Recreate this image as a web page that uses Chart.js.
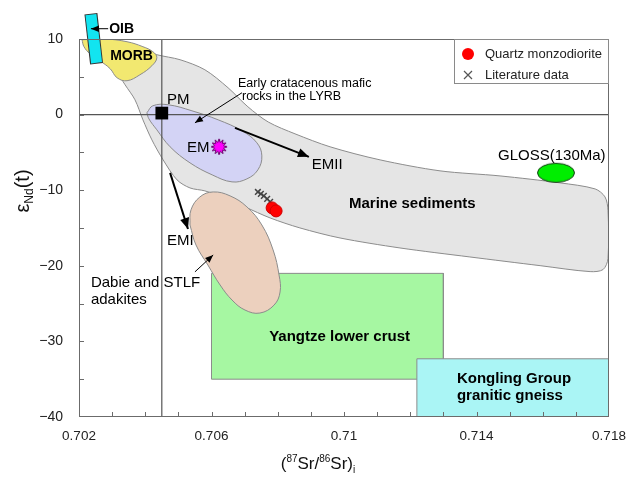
<!DOCTYPE html>
<html>
<head>
<meta charset="utf-8">
<script src="https://cdn.jsdelivr.net/npm/chart.js@4.4.0/dist/chart.umd.min.js"></script>
<style>
html, body { margin: 0; padding: 0; background: #fff; }
canvas { display: block; }
</style>
</head>
<body>
<canvas id="c" width="630" height="477"></canvas>
<script>
var FONT = "'Liberation Sans', Arial, sans-serif";

// axis ticks
var xTicks = [0.702, 0.706, 0.71, 0.714, 0.718];
var yTicks = [-40, -30, -20, -10, 0, 10];

// fields, [(87Sr/86Sr)i, eNd(t)], closed outlines
var marineSediments = [[0.70300,7.26],[0.70369,8.85],[0.70435,7.92],[0.70505,7.26],[0.70580,5.93],[0.70650,3.55],
  [0.70710,1.03],[0.70771,-0.97],[0.70852,-2.54],[0.70958,-4.26],[0.71109,-5.99],[0.71290,-7.44],[0.71471,-8.11],
  [0.71652,-9.03],[0.71758,-9.83],[0.71788,-10.89],[0.71797,-12.69],[0.71797,-19.05],[0.71782,-20.5],[0.71743,-20.77],
  [0.71592,-19.98],[0.71380,-18.83],[0.71169,-17.64],[0.70988,-16.32],[0.70867,-14.99],[0.70777,-13.67],[0.70701,-12.21],
  [0.70641,-11.03],[0.70580,-10.09],[0.70535,-9.7],[0.70496,-8.64],[0.70454,-5.99],[0.70420,-3.34],[0.70393,-0.69],
  [0.70369,1.96],[0.70339,3.95],[0.70315,5.67],[0.70300,7.26]];
var earlyMaficLYRB = [[0.70405,0.24],[0.70423,1.17],[0.70469,1.30],[0.70541,0.50],[0.70620,-0.69],[0.70692,-2.15],
  [0.70737,-3.73],[0.70752,-5.46],[0.70740,-7.31],[0.70707,-8.50],[0.70662,-8.90],[0.70602,-7.97],[0.70535,-6.38],
  [0.70475,-4.26],[0.70435,-2.01],[0.70411,-0.56],[0.70405,0.24]];
var morb = [[0.70209,9.91],[0.70278,10],[0.70345,9.64],[0.70393,8.98],[0.70423,8.32],[0.70435,7.52],[0.70420,6.46],
  [0.70384,5.27],[0.70345,4.48],[0.70315,4.87],[0.70294,6.07],[0.70263,7.13],[0.70233,8.05],[0.70215,8.98],[0.70209,9.91]];
var dabieAdakites = [[0.70535,-14.6],[0.70538,-12.61],[0.70565,-10.89],[0.70605,-10.23],[0.70656,-10.75],[0.70707,-12.21],
  [0.70752,-14.6],[0.70786,-17.91],[0.70804,-21.23],[0.70807,-23.46],[0.70789,-25.19],[0.70746,-26.25],[0.70701,-25.85],
  [0.70662,-24.53],[0.70626,-22.54],[0.70589,-19.89],[0.70553,-17.24],[0.70535,-14.6]];
var yangtzeLowerCrust = [[0.706,-21],[0.713,-21],[0.713,-35],[0.706,-35],[0.706,-21]];
var konglingGneiss = [[0.7122,-32.3],[0.718,-32.3],[0.718,-40],[0.7122,-40],[0.7122,-32.3]];
var oibBand = [[0.70236,13.22],[0.70253,6.86]];
var oibEdge = [[0.70236,13.35],[0.70253,6.73]];

// end members and samples
var pm = [[0.7045,0.2]];
var em = [[0.70623,-4.26]];
var gloss = [[0.7164,-7.7]];
var quartzMonzodiorite = [[0.70783,-12.34],[0.70795,-12.74]];
var literatureData = [[0.7074,-10.23],[0.70749,-10.49],[0.70758,-10.75],[0.70768,-11.15],[0.70777,-11.55]];

// reference lines through PM
var pmVertical = [[0.7045,10],[0.7045,-40]];
var pmHorizontal = [[0.702,0],[0.718,0]];

// arrows, tail -> tip
var arrowOib = [[0.70288,11.36],[0.70236,11.36]];
var arrowEarly = [[0.70692,2.89],[0.7055,-1.09]];
var arrowEmii = [[0.70671,-1.75],[0.70894,-5.59]];
var arrowEmi = [[0.70475,-7.71],[0.70529,-15.13]];
var arrowDabie = [[0.7055,-20.8],[0.70605,-18.57]];

var notes = [
  ['OIB', 0.70291, 11.36, 'bold 14px'],
  ['MORB', 0.70294, 7.79, 'bold 14px'],
  ['PM', 0.70466, 1.96, '15px'],
  ['Early cratacenous mafic', 0.7068, 4.08, '12.5px'],
  ['rocks in the LYRB', 0.70692, 2.36, '12.5px'],
  ['EM', 0.70526, -4.4, '15px'],
  ['EMII', 0.70903, -6.6, '15px'],
  ['GLOSS(130Ma)', 0.71465, -5.45, '15px'],
  ['Marine sediments', 0.71015, -11.84, 'bold 15px'],
  ['EMI', 0.70466, -16.7, '15px'],
  ['Dabie and STLF', 0.70236, -22.3, '15px'],
  ['adakites', 0.70236, -24.5, '15px'],
  ['Yangtze lower crust', 0.70774, -29.4, 'bold 15px'],
  ['Kongling Group', 0.71341, -35.0, 'bold 15px'],
  ['granitic gneiss', 0.71341, -37.2, 'bold 15px']
];

var xy = function(a) {
  return a.map(function(p) { return {x: p[0], y: p[1]}; });
};

var field = function(a, color, order, tension) {
  return {data: xy(a), showLine: true, fill: 'shape', backgroundColor: color, borderColor: '#8c8c8c',
    borderWidth: 1, pointRadius: 0, tension: tension, order: order};
};

var arrow = function(a, width, order) {
  return {data: xy(a), showLine: true, fill: false, borderColor: '#000', borderWidth: width,
    pointRadius: 0, arrow: true, clip: false, order: order};
};

var starImage = function() {
  var c = document.createElement('canvas');
  c.width = 18; c.height = 18;
  var g = c.getContext('2d');
  g.beginPath();
  for (var i = 0; i < 24; i++) {
    var r = i % 2 ? 4.6 : 8;
    var a = i * Math.PI / 12;
    g.lineTo(9 + r * Math.sin(a), 9 - r * Math.cos(a));
  }
  g.closePath();
  g.fillStyle = '#ff00ff';
  g.fill();
  g.strokeStyle = '#6a006a';
  g.lineWidth = 1;
  g.stroke();
  return c;
};

var ellipseImage = function() {
  var c = document.createElement('canvas');
  c.width = 40; c.height = 22;
  var g = c.getContext('2d');
  g.beginPath();
  g.ellipse(20, 11, 18.5, 9.5, 0, 0, Math.PI * 2);
  g.fillStyle = '#00ee00';
  g.fill();
  g.strokeStyle = '#1a3a1a';
  g.lineWidth = 1;
  g.stroke();
  return c;
};

var noPad = function(s) {
  s.paddingLeft = 0; s.paddingRight = 0; s.paddingTop = 0; s.paddingBottom = 0;
};

var decor = {
  id: 'decor',
  afterDatasetsDraw: function(chart) {
    var ctx = chart.ctx, xs = chart.scales.x, ys = chart.scales.y;
    chart.data.datasets.forEach(function(ds) {
      if (!ds.arrow) return;
      var n = ds.data.length, a = ds.data[n - 2], b = ds.data[n - 1];
      var x1 = xs.getPixelForValue(a.x), y1 = ys.getPixelForValue(a.y);
      var x2 = xs.getPixelForValue(b.x), y2 = ys.getPixelForValue(b.y);
      var len = 5 + 3 * ds.borderWidth, hw = 2 + 1.3 * ds.borderWidth;
      ctx.save();
      ctx.translate(x2, y2);
      ctx.rotate(Math.atan2(y2 - y1, x2 - x1));
      ctx.beginPath();
      ctx.moveTo(0, 0);
      ctx.lineTo(-len, hw);
      ctx.lineTo(-len, -hw);
      ctx.closePath();
      ctx.fillStyle = '#000';
      ctx.fill();
      ctx.restore();
    });
  },
  afterDraw: function(chart) {
    var ctx = chart.ctx, a = chart.chartArea, xs = chart.scales.x, ys = chart.scales.y;
    ctx.save();
    // frame
    ctx.strokeStyle = '#6b6b6b';
    ctx.lineWidth = 1;
    ctx.strokeRect(a.left + 0.5, a.top + 0.5, a.right - a.left - 1, a.bottom - a.top - 1);
    // inward minor ticks
    ctx.beginPath();
    for (var i = 1; i < 16; i++) {
      var px = Math.round(xs.getPixelForValue(0.702 + i * 0.001)) + 0.5;
      ctx.moveTo(px, a.bottom);
      ctx.lineTo(px, a.bottom - 5);
    }
    for (var j = 1; j < 10; j++) {
      var py = Math.round(ys.getPixelForValue(-40 + j * 5)) + 0.5;
      ctx.moveTo(a.left, py);
      ctx.lineTo(a.left + 5, py);
    }
    ctx.stroke();

    // labels on the diagram
    ctx.fillStyle = '#000';
    ctx.textBaseline = 'middle';
    ctx.textAlign = 'left';
    notes.forEach(function(n) {
      ctx.font = n[3] + ' ' + FONT;
      ctx.fillText(n[0], xs.getPixelForValue(n[1]), ys.getPixelForValue(n[2]));
    });

    // legend
    var lx = a.right - 155, ly = a.top;
    ctx.fillStyle = '#fff';
    ctx.fillRect(lx, ly, 155, 44);
    ctx.strokeStyle = '#8a8a8a';
    ctx.strokeRect(lx + 0.5, ly + 0.5, 154, 44);
    ctx.beginPath();
    ctx.arc(lx + 14, ly + 15, 6, 0, Math.PI * 2);
    ctx.fillStyle = '#ff0000';
    ctx.fill();
    ctx.strokeStyle = '#555';
    ctx.lineWidth = 1.2;
    ctx.beginPath();
    ctx.moveTo(lx + 10, ly + 32); ctx.lineTo(lx + 18, ly + 40);
    ctx.moveTo(lx + 18, ly + 32); ctx.lineTo(lx + 10, ly + 40);
    ctx.stroke();
    ctx.fillStyle = '#222';
    ctx.font = '13px ' + FONT;
    ctx.fillText('Quartz monzodiorite', lx + 31, ly + 15);
    ctx.fillText('Literature data', lx + 31, ly + 36);

    // y title
    ctx.save();
    ctx.translate(22, 191);
    ctx.rotate(-Math.PI / 2);
    var yparts = [['\u03B5', '20px', 0], ['Nd', '12px', 4], ['(t)', '20px', 0]];
    var tw = 0;
    yparts.forEach(function(p) { ctx.font = p[1] + ' ' + FONT; tw += ctx.measureText(p[0]).width; });
    var u = -tw / 2;
    ctx.textBaseline = 'alphabetic';
    ctx.fillStyle = '#111';
    yparts.forEach(function(p) {
      ctx.font = p[1] + ' ' + FONT;
      ctx.fillText(p[0], u, 7 + p[2]);
      u += ctx.measureText(p[0]).width;
    });
    ctx.restore();

    // x title
    var xparts = [['(', '17px', 0], ['87', '10px', -7], ['Sr/', '17px', 0], ['86', '10px', -7], ['Sr)', '17px', 0], ['i', '10px', 4]];
    tw = 0;
    xparts.forEach(function(p) { ctx.font = p[1] + ' ' + FONT; tw += ctx.measureText(p[0]).width; });
    var xx = 318 - tw / 2;
    ctx.textBaseline = 'alphabetic';
    ctx.fillStyle = '#111';
    xparts.forEach(function(p) {
      ctx.font = p[1] + ' ' + FONT;
      ctx.fillText(p[0], xx, 469 + p[2]);
      xx += ctx.measureText(p[0]).width;
    });
    ctx.restore();
  }
};

Chart.defaults.font.family = FONT;

var chart = new Chart(document.getElementById('c').getContext('2d'), {
  type: 'scatter',
  data: {
    datasets: [
      field(marineSediments, '#e5e5e5', 30, 0.3),
      field(yangtzeLowerCrust, '#a6f7a2', 29, 0),
      field(konglingGneiss, '#aaf5f5', 28, 0),
      field(earlyMaficLYRB, '#d3d3f5', 27, 0.4),
      field(dabieAdakites, '#ecd0be', 26, 0.4),
      field(morb, '#f2e870', 25, 0.4),
      {data: xy(oibEdge), showLine: true, borderColor: '#333', borderWidth: 13, borderCapStyle: 'butt', pointRadius: 0, clip: false, order: 24},
      {data: xy(oibBand), showLine: true, borderColor: '#12e4f0', borderWidth: 11, borderCapStyle: 'butt', pointRadius: 0, clip: false, order: 23},
      {data: xy(pmVertical), showLine: true, borderColor: '#555', borderWidth: 1.2, pointRadius: 0, order: 20},
      {data: xy(pmHorizontal), showLine: true, borderColor: '#555', borderWidth: 1.2, pointRadius: 0, order: 20},
      arrow(arrowOib, 1, 12),
      arrow(arrowEarly, 1, 12),
      arrow(arrowEmii, 2, 12),
      arrow(arrowEmi, 2, 12),
      arrow(arrowDabie, 1, 12),
      {data: xy(gloss), pointStyle: ellipseImage(), pointRadius: 10, order: 8},
      {data: xy(literatureData), pointStyle: 'crossRot', pointRadius: 4, borderColor: '#444', borderWidth: 1.5, order: 5},
      {data: xy(quartzMonzodiorite), pointStyle: 'circle', pointRadius: 6, backgroundColor: '#ff0000', borderColor: '#d00000', borderWidth: 1, order: 4},
      {data: xy(em), pointStyle: starImage(), pointRadius: 9, order: 3},
      {data: xy(pm), pointStyle: 'rect', pointRadius: 9, backgroundColor: '#000', borderColor: '#000', borderWidth: 0, order: 2}
    ]
  },
  options: {
    responsive: false,
    animation: false,
    events: [],
    layout: { padding: { top: 39, right: 21, left: 0, bottom: 0 } },
    plugins: { legend: { display: false }, tooltip: { enabled: false } },
    scales: {
      x: {
        type: 'linear', min: 0.702, max: 0.718,
        afterFit: function(s) { s.height = 60; noPad(s); },
        afterBuildTicks: function(s) { s.ticks = xTicks.map(function(v) { return {value: v}; }); },
        grid: { display: false, drawTicks: false },
        border: { display: false },
        ticks: { padding: 11, autoSkip: false, maxRotation: 0, color: '#222', font: { size: 13.5 },
          callback: function(v) { return String(v); } }
      },
      y: {
        type: 'linear', min: -40, max: 10,
        afterFit: function(s) { s.width = 79; noPad(s); },
        afterBuildTicks: function(s) { s.ticks = yTicks.map(function(v) { return {value: v}; }); },
        grid: { display: false, drawTicks: false },
        border: { display: false },
        ticks: { padding: 16, color: '#222', font: { size: 14 },
          callback: function(v) { return v < 0 ? '\u2212' + (-v) : String(v); } }
      }
    }
  },
  plugins: [decor]
});
</script>
</body>
</html>
